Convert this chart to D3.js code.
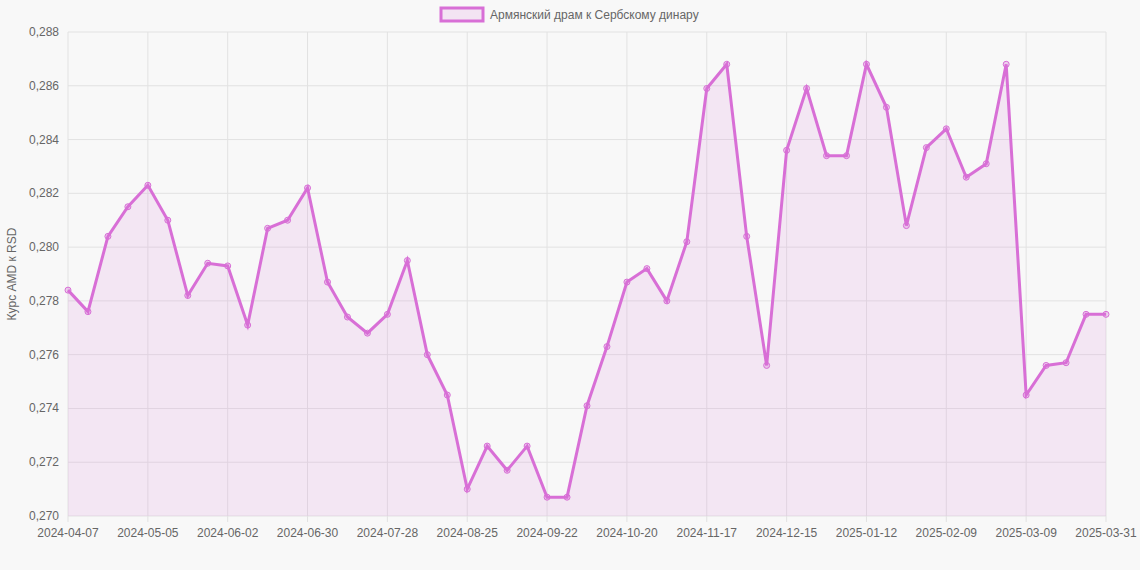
<html>
<head>
    <script src="https://d3js.org/d3.v7.min.js"></script>
    <style>
        body { margin: 0; background: #f8f8f8; }
        text { font-family: "Helvetica Neue", Arial, "Liberation Sans", sans-serif; }
    </style>
</head>
<body>
<svg id="chart" width="1140" height="570"></svg>
<script>
const dates = ["2024-04-07","2024-04-14","2024-04-21","2024-04-28","2024-05-05","2024-05-12","2024-05-19","2024-05-26",
"2024-06-02","2024-06-09","2024-06-16","2024-06-23","2024-06-30","2024-07-07","2024-07-14","2024-07-21",
"2024-07-28","2024-08-04","2024-08-11","2024-08-18","2024-08-25","2024-09-01","2024-09-08","2024-09-15",
"2024-09-22","2024-09-29","2024-10-06","2024-10-13","2024-10-20","2024-10-27","2024-11-03","2024-11-10",
"2024-11-17","2024-11-24","2024-12-01","2024-12-08","2024-12-15","2024-12-22","2024-12-29","2025-01-05",
"2025-01-12","2025-01-19","2025-01-26","2025-02-02","2025-02-09","2025-02-16","2025-02-23","2025-03-02",
"2025-03-09","2025-03-16","2025-03-23","2025-03-30","2025-03-31"];
const rates = [0.2784,0.2776,0.2804,0.2815,0.2823,0.2810,0.2782,0.2794,
0.2793,0.2771,0.2807,0.2810,0.2822,0.2787,0.2774,0.2768,
0.2775,0.2795,0.2760,0.2745,0.2710,0.2726,0.2717,0.2726,
0.2707,0.2707,0.2741,0.2763,0.2787,0.2792,0.2780,0.2802,
0.2859,0.2868,0.2804,0.2756,0.2836,0.2859,0.2834,0.2834,
0.2868,0.2852,0.2808,0.2837,0.2844,0.2826,0.2831,0.2868,
0.2745,0.2756,0.2757,0.2775,0.2775];
const yTicks = [0.270,0.272,0.274,0.276,0.278,0.280,0.282,0.284,0.286,0.288];
const seriesName = "Армянский драм к Сербскому динару";
const yTitle = "Курс AMD к RSD";

const svg = d3.select("#chart");
const plotLeft = 68, plotRight = 1106, plotTop = 32, plotBottom = 516;
const lineColor = "#d86fd6";

const x = d3.scalePoint().domain(dates).range([plotLeft, plotRight]);
const y = d3.scaleLinear().domain([0.270, 0.288]).range([plotBottom, plotTop]);
const fmt = v => d3.format(".3f")(v).replace(".", ",");

// x tick labels: every 4th week plus the last one
const xTickDates = dates.filter((d, i) => i % 4 === 0 || i === dates.length - 1);

// grid
svg.append("g").selectAll("line").data(yTicks).join("line")
    .attr("x1", plotLeft).attr("x2", plotRight)
    .attr("y1", d => y(d)).attr("y2", d => y(d))
    .attr("stroke", "#e2e2e2");
svg.append("g").selectAll("line").data(xTickDates).join("line")
    .attr("x1", d => x(d)).attr("x2", d => x(d))
    .attr("y1", plotTop).attr("y2", plotBottom + 6)
    .attr("stroke", "#e2e2e2");

// axis labels
svg.append("g").selectAll("text").data(yTicks).join("text")
    .attr("x", plotLeft - 9).attr("y", d => y(d) + 4)
    .attr("text-anchor", "end").attr("font-size", 12).attr("fill", "#666")
    .text(fmt);
svg.append("g").selectAll("text").data(xTickDates).join("text")
    .attr("x", d => x(d)).attr("y", plotBottom + 21)
    .attr("text-anchor", "middle").attr("font-size", 12).attr("fill", "#666")
    .text(d => d);

svg.append("text")
    .attr("transform", `translate(16,${(plotTop + plotBottom) / 2}) rotate(-90)`)
    .attr("text-anchor", "middle").attr("font-size", 12).attr("fill", "#666")
    .text(yTitle);

// area + line
svg.append("path").datum(rates)
    .attr("d", d3.area().x((d, i) => x(dates[i])).y0(plotBottom).y1(d => y(d)))
    .attr("fill", "rgba(216,111,214,0.12)");
svg.append("path").datum(rates)
    .attr("d", d3.line().x((d, i) => x(dates[i])).y(d => y(d)))
    .attr("fill", "none").attr("stroke", lineColor).attr("stroke-width", 3);
svg.append("g").selectAll("circle").data(rates).join("circle")
    .attr("cx", (d, i) => x(dates[i])).attr("cy", d => y(d)).attr("r", 3)
    .attr("fill", "rgba(216,111,214,0.3)").attr("stroke", lineColor).attr("stroke-width", 1);

// legend
svg.append("rect").attr("x", 441).attr("y", 8).attr("width", 42).attr("height", 13)
    .attr("fill", "rgba(216,111,214,0.15)").attr("stroke", lineColor).attr("stroke-width", 3);
svg.append("text").attr("x", 490).attr("y", 19).attr("font-size", 12).attr("fill", "#666")
    .text(seriesName);
</script>
</body>
</html>
